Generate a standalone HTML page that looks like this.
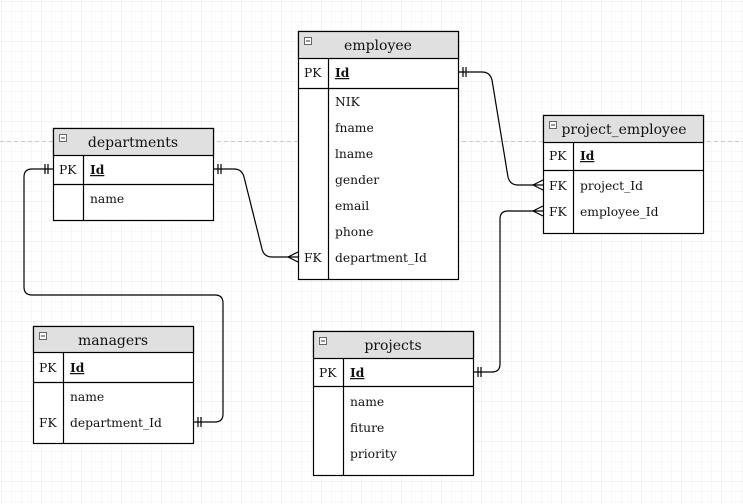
<!DOCTYPE html>
<html><head><meta charset="utf-8"><style>
html,body{margin:0;padding:0;background:#fff}
svg{display:block}
text{font-family:"DejaVu Serif","Liberation Serif",serif;font-size:12.3px;fill:#111}
.h{font-size:14px}
</style></head><body>
<svg width="743" height="504" xmlns="http://www.w3.org/2000/svg">
<defs>
<pattern id="g" width="10" height="10" patternUnits="userSpaceOnUse"><path d="M10 0V10H0" fill="none" stroke="#f0f0f0" stroke-width="1"/></pattern>
<pattern id="G" width="40" height="40" patternUnits="userSpaceOnUse" x="2" y="2"><rect width="40" height="40" fill="url(#g)"/><path d="M40 0V40H0" fill="none" stroke="#e4e4e4" stroke-width="1"/></pattern>
</defs>
<rect width="743" height="504" fill="url(#G)"/>
<line x1="0" y1="141.5" x2="743" y2="141.5" stroke="#c8c8c8" stroke-dasharray="4,3"/>

<g fill="none" stroke="#000" stroke-width="1.2">
<path d="M458 72H482q8 0 10 8L508 177q2 8 10 8H543"/>
<path d="M463 67v10M466 67v10M533 185l10-5M533 185l10 5"/>
<path d="M473 372H492q8 0 8-8V219q0-8 8-8H543"/>
<path d="M478 367v10M481 367v10M533 211l10-5M533 211l10 5"/>
<path d="M213 169H234q8 0 10 8L262 249q2 8 10 8H298"/>
<path d="M218 164v10M221 164v10M288 257l10-5M288 257l10 5"/>
<path d="M53 169H32q-8 0-8 8V287q0 8 8 8H215q8 0 8 8V414q0 8-8 8H193"/>
<path d="M48 164v10M45 164v10M198 417v10M201 417v10"/>
</g>

<g stroke="#000" stroke-width="1.2">
<rect x="298.5" y="31.5" width="160" height="248" fill="#fff"/>
<rect x="298.5" y="31.5" width="160" height="27" fill="#e0e0e0"/>
<line x1="298.5" y1="88.5" x2="458.5" y2="88.5"/><line x1="328.5" y1="58.5" x2="328.5" y2="279.5"/>
<rect x="53.5" y="128.5" width="160" height="92" fill="#fff"/>
<rect x="53.5" y="128.5" width="160" height="27" fill="#e0e0e0"/>
<line x1="53.5" y1="184.5" x2="213.5" y2="184.5"/><line x1="83.5" y1="155.5" x2="83.5" y2="220.5"/>
<rect x="33.5" y="326.5" width="160" height="117" fill="#fff"/>
<rect x="33.5" y="326.5" width="160" height="26" fill="#e0e0e0"/>
<line x1="33.5" y1="382.5" x2="193.5" y2="382.5"/><line x1="63.5" y1="352.5" x2="63.5" y2="443.5"/>
<rect x="313.5" y="331.5" width="160" height="144" fill="#fff"/>
<rect x="313.5" y="331.5" width="160" height="27" fill="#e0e0e0"/>
<line x1="313.5" y1="386.5" x2="473.5" y2="386.5"/><line x1="343.5" y1="358.5" x2="343.5" y2="475.5"/>
<rect x="543.5" y="115.5" width="160" height="118" fill="#fff"/>
<rect x="543.5" y="115.5" width="160" height="27" fill="#e0e0e0"/>
<line x1="543.5" y1="170.5" x2="703.5" y2="170.5"/><line x1="573.5" y1="142.5" x2="573.5" y2="233.5"/>
</g>
<g fill="#fff" stroke="#666" stroke-width="1">
<rect x="304.5" y="37.5" width="7" height="7"/><rect x="59.5" y="134.5" width="7" height="7"/>
<rect x="39.5" y="332.5" width="7" height="7"/><rect x="319.5" y="337.5" width="7" height="7"/>
<rect x="549.5" y="121.5" width="7" height="7"/>
</g>
<g stroke="#333"><path d="M306 41h4M61 138h4M41 336h4M321 341h4M551 125h4"/></g>

<text class="h" x="378" y="50" text-anchor="middle">employee</text>
<text x="304" y="77">PK</text><text x="335" y="77" font-weight="bold" text-decoration="underline">Id</text>
<text x="335" y="106">NIK</text><text x="335" y="132">fname</text><text x="335" y="158">lname</text>
<text x="335" y="184">gender</text><text x="335" y="210">email</text><text x="335" y="236">phone</text>
<text x="304" y="262">FK</text><text x="335" y="262">department_Id</text>

<text class="h" x="133" y="147" text-anchor="middle">departments</text>
<text x="59" y="174">PK</text><text x="90" y="174" font-weight="bold" text-decoration="underline">Id</text>
<text x="90" y="203">name</text>

<text class="h" x="113" y="345" text-anchor="middle">managers</text>
<text x="39" y="372">PK</text><text x="70" y="372" font-weight="bold" text-decoration="underline">Id</text>
<text x="70" y="401">name</text>
<text x="39" y="427">FK</text><text x="70" y="427">department_Id</text>

<text class="h" x="393" y="350" text-anchor="middle">projects</text>
<text x="319" y="377">PK</text><text x="350" y="377" font-weight="bold" text-decoration="underline">Id</text>
<text x="350" y="406">name</text><text x="350" y="432">fiture</text><text x="350" y="458">priority</text>

<text class="h" x="624" y="134" text-anchor="middle">project_employee</text>
<text x="549" y="160">PK</text><text x="580" y="160" font-weight="bold" text-decoration="underline">Id</text>
<text x="549" y="190">FK</text><text x="580" y="190">project_Id</text>
<text x="549" y="216">FK</text><text x="580" y="216">employee_Id</text>
</svg>
</body></html>
